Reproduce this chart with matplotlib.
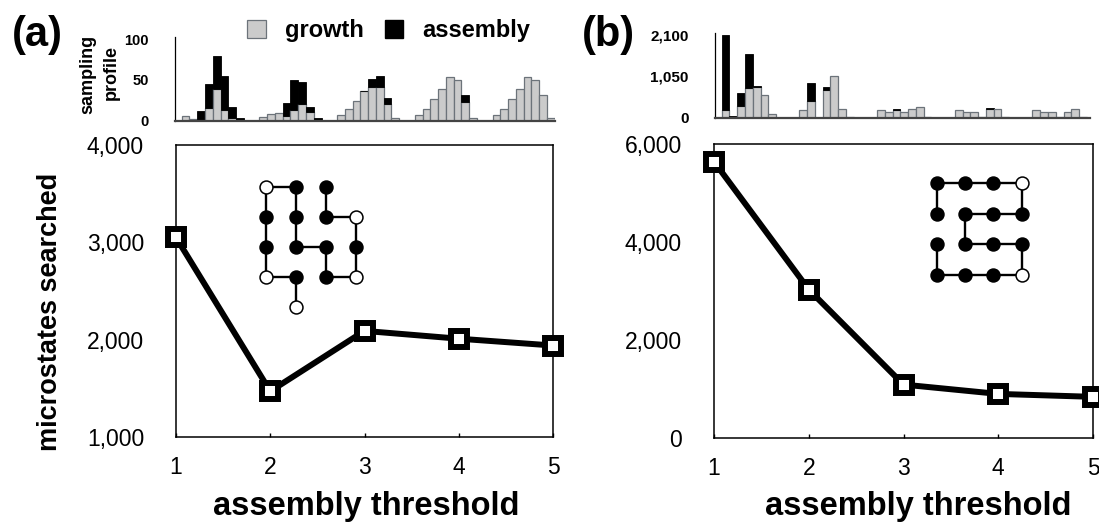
import matplotlib
matplotlib.use("Agg")
import matplotlib.pyplot as plt
from matplotlib.patches import Patch
from matplotlib.ticker import FuncFormatter
import numpy as np

plt.rcParams['font.family'] = ['Liberation Sans', 'DejaVu Sans']

# ---------------- data ----------------
thresholds = [1, 2, 3, 4, 5]
searched_a = [3050, 1470, 2090, 2010, 1940]
searched_b = [5640, 3030, 1090, 900, 840]

# sampling profile: 5 groups (one per threshold) x 8 bins
growth_a = [[5, 2, 0, 15, 39, 13, 3, 0],
            [4.5, 8, 9.5, 6, 13, 20, 10, 0],
            [7, 14, 24, 36, 41, 41, 20, 2.5],
            [7, 14, 27, 39, 54, 50, 23, 2.5],
            [7, 14, 27, 39, 54, 50, 31, 2.5]]
assembly_a = [[0, 0, 12, 30, 41, 42, 14, 2.5],
              [0, 0, 0, 16, 37, 28, 7, 2.5],
              [0, 0, 0, 1, 10, 14, 8, 0],
              [0, 0, 0, 0, 0, 0, 8, 0],
              [0, 0, 0, 0, 0, 0, 0, 0]]
growth_b = [[187, 0, 289, 740, 773, 561, 77, 0],
            [187, 416, 0, 697, 1054, 212, 25, 0],
            [187, 128, 179, 128, 212, 255, 25, 0],
            [187, 128, 128, 25, 212, 212, 25, 0],
            [187, 128, 128, 25, 128, 212, 25, 0]]
assembly_b = [[1920, 34, 331, 875, 27, 0, 0, 0],
              [0, 468, 0, 77, 0, 0, 0, 0],
              [0, 0, 42, 0, 0, 0, 0, 0],
              [0, 0, 0, 0, 26, 0, 0, 0],
              [0, 0, 0, 0, 0, 0, 0, 0]]
hist_ticks_a = [0, 50, 100]
hist_ticks_b = [0, 1050, 2100]

# lattice conformations (col, row), chain order; True = filled
chain_a = [(1, 4), (1, 3), (0, 3), (0, 2), (0, 1), (0, 0), (1, 0), (1, 1),
           (1, 2), (2, 2), (2, 3), (3, 3), (3, 2), (3, 1), (2, 1), (2, 0)]
filled_a = [False, True, False, True, True, False, True, True,
            True, True, True, False, True, False, True, True]
chain_b = [(0, 1), (0, 0), (1, 0), (2, 0), (3, 0), (3, 1), (2, 1), (1, 1),
           (1, 2), (2, 2), (3, 2), (3, 3), (2, 3), (1, 3), (0, 3), (0, 2)]
filled_b = [True, True, True, True, False, True, True, True,
            True, True, True, False, True, True, True, True]

W, H = 1099, 531
fig = plt.figure(figsize=(W / 100, H / 100), dpi=100)


def box(left, top, right, bottom):
    return [left / W, 1 - bottom / H, (right - left) / W, (bottom - top) / H]


GRAY = '#cbcbcb'
EDGE = '#6c737a'


def hist(rect, growth, assembly, xlim, ylim, ticks, fs):
    ax = fig.add_axes(rect)
    for g, (gr, asm) in enumerate(zip(growth, assembly)):
        for b, (vg, va) in enumerate(zip(gr, asm)):
            x = g * 10 + b
            if vg > 0:
                ax.bar(x, vg, width=1, align='edge', color=GRAY,
                       edgecolor=EDGE, linewidth=0.9, zorder=2)
            if va > 0:
                ax.bar(x, va, width=1, bottom=vg, align='edge', color='black',
                       edgecolor='black', linewidth=0.6, zorder=2)
    ax.set_xlim(*xlim)
    ax.set_ylim(*ylim)
    ax.set_xticks([])
    ax.set_yticks(ticks)
    ax.yaxis.set_major_formatter(FuncFormatter(lambda v, p: f'{int(v):,}'))
    ax.tick_params(axis='y', length=0, pad=19, labelsize=fs)
    for lab in ax.get_yticklabels():
        lab.set_fontweight('bold')
    for s in ['top', 'right']:
        ax.spines[s].set_visible(False)
    ax.spines['left'].set_linewidth(0.9)
    ax.spines['bottom'].set_linewidth(1.6)
    ax.spines['bottom'].set_color('#444444')
    return ax


ha = hist(box(175, 37, 555, 120.5), growth_a, assembly_a, (-0.86, 48.04),
          (0, 103), hist_ticks_a, 10.5)
hb = hist(box(715, 33, 1090, 117.5), growth_b, assembly_b, (-0.86, 47.4),
          (0, 2151), hist_ticks_b, 11)

fig.text(88 / W, 1 - 74 / H, 'sampling', rotation=90, ha='center',
         va='center', fontsize=13, fontweight='bold')
fig.text(111 / W, 1 - 72 / H, 'profile', rotation=90, ha='center',
         va='center', fontsize=13, fontweight='bold')

handles = [Patch(facecolor=GRAY, edgecolor=EDGE, linewidth=0.9, label='growth'),
           Patch(facecolor='black', edgecolor='black', label='assembly')]
fig.legend(handles=handles, loc='center', bbox_to_anchor=(388.5 / W, 1 - 31 / H),
           ncol=2, frameon=False, prop={'size': 17, 'weight': 'bold'},
           handlelength=0.78, handleheight=0.78, handletextpad=0.8,
           columnspacing=0.9, borderpad=0, borderaxespad=0)


def main(rect, vals, ylim, yticks):
    ax = fig.add_axes(rect)
    ax.plot(thresholds, vals, color='black', linewidth=4.3, marker='s',
            markersize=11.5, markerfacecolor='white', markeredgecolor='black',
            markeredgewidth=4.3, clip_on=False, zorder=5)
    ax.set_xlim(1, 5)
    ax.set_ylim(*ylim)
    ax.set_xticks(thresholds)
    ax.set_yticks(yticks)
    ax.yaxis.set_major_formatter(FuncFormatter(lambda v, p: f'{int(v):,}'))
    ax.tick_params(axis='x', direction='in', length=3, width=1, pad=14,
                   labelsize=16.5)
    ax.tick_params(axis='y', length=0, pad=23, labelsize=16.5)
    for s in ax.spines.values():
        s.set_linewidth(1.1)
    ax.set_facecolor('white')
    return ax


ma = main(box(176, 145, 553, 437), searched_a, (1000, 4000),
          [1000, 2000, 3000, 4000])
mb = main(box(714, 144, 1093, 438), searched_b, (0, 6000),
          [0, 2000, 4000, 6000])


def lattice(rect, chain, filled, nrows):
    ax = fig.add_axes(rect)
    xs = [c for c, r in chain]
    ys = [r for c, r in chain]
    ax.plot(xs, ys, color='black', linewidth=1.7, zorder=1)
    for (c, r), f in zip(chain, filled):
        ax.plot(c, r, 'o', markersize=9.3, markerfacecolor='black' if f else 'white',
                markeredgecolor='black', markeredgewidth=1.1, zorder=2)
    ax.set_xlim(-0.5, 3.5)
    ax.set_ylim(nrows - 0.5, -0.5)
    ax.axis('off')
    return ax


lattice(box(250.7, 171.7, 370.7, 321.7), chain_a, filled_a, 5)
lattice(box(922.5, 167.6, 1035.8, 290.4), chain_b, filled_b, 4)

fig.text(50 / W, 1 - 312 / H, 'microstates searched', rotation=90,
         ha='center', va='center', fontsize=19.5, fontweight='bold')
fig.text(366 / W, 1 - 507 / H, 'assembly threshold', ha='center',
         va='center', fontsize=23.5, fontweight='bold')
fig.text(918 / W, 1 - 507 / H, 'assembly threshold', ha='center',
         va='center', fontsize=23.5, fontweight='bold')
fig.text(37 / W, 1 - 35 / H, '(a)', ha='center', va='center', fontsize=30,
         fontweight='bold')
fig.text(608 / W, 1 - 35 / H, '(b)', ha='center', va='center', fontsize=30,
         fontweight='bold')

fig.savefig('out.png', dpi=100)
